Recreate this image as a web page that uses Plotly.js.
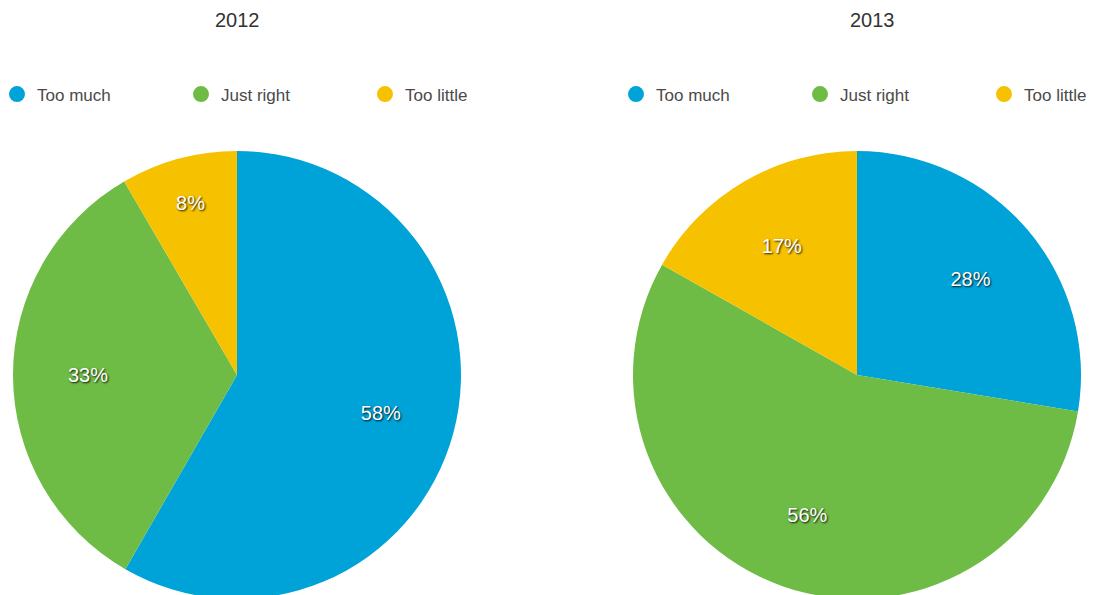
<!DOCTYPE html>
<html>
<head>
<meta charset="utf-8">
<script src="https://cdn.plot.ly/plotly-3.0.1.min.js"></script>
<style>
html,body{margin:0;padding:0;overflow:hidden;background:#fff;}
#chart{width:1096px;height:600px;}
</style>
</head>
<body>
<div id="chart"></div>
<script>
const categories = ["Too much", "Just right", "Too little"];
const years = ["2012", "2013"];
// shares (labels show them rounded)
const values2012 = [58.3, 33.3, 8.4];
const values2013 = [27.6, 55.6, 16.8];
const colors = ["#00A3D8", "#6EBC45", "#F6C200"];

const FONT = "Liberation Sans, Arial, Helvetica, sans-serif";
const labelFont = {family: FONT, size: 20, color: "#ffffff", shadow: "1px 1px 2px rgba(0,0,0,0.9)"};

function pieTrace(vals, xdom) {
  return {
    type: "pie",
    labels: categories,
    values: vals,
    sort: false,
    direction: "clockwise",
    rotation: 0,
    marker: {colors: colors, line: {width: 0}},
    textinfo: "none",
    hoverinfo: "none",
    showlegend: false,
    domain: {x: xdom, y: [0, 1]}
  };
}
// transparent ring overlay that carries the percentage labels
function labelTrace(vals, xdom) {
  return {
    type: "pie",
    labels: categories,
    values: vals,
    sort: false,
    direction: "clockwise",
    rotation: 0,
    hole: 0.33,
    marker: {colors: ["rgba(0,0,0,0)", "rgba(0,0,0,0)", "rgba(0,0,0,0)"], line: {width: 0}},
    texttemplate: "%{value:.0f}%",
    textposition: "inside",
    insidetextorientation: "horizontal",
    textfont: labelFont,
    hoverinfo: "none",
    showlegend: false,
    domain: {x: xdom, y: [0, 1]}
  };
}

const W = 1096;
const dom1 = [13 / W, 461 / W];
const dom2 = [633 / W, 1081 / W];
const traces = [
  pieTrace(values2012, dom1),
  pieTrace(values2013, dom2),
  labelTrace(values2012, dom1),
  labelTrace(values2013, dom2)
];

// legend-only marker traces (circle symbols), one set per pie legend
["legend", "legend2"].forEach(function (lg) {
  categories.forEach(function (c, i) {
    traces.push({
      type: "scatter", mode: "markers", x: [null], y: [null],
      name: c, legend: lg,
      marker: {symbol: "circle", size: 16, color: colors[i]},
      hoverinfo: "none", showlegend: true
    });
  });
});

const legendCommon = {
  orientation: "h",
  font: {family: FONT, size: 17, color: "#4a4a4a"},
  yanchor: "middle",
  y: 1.126,
  xanchor: "left",
  entrywidth: 139,
  entrywidthmode: "pixels",
  itemsizing: "trace",
  bgcolor: "rgba(0,0,0,0)",
  itemclick: false, itemdoubleclick: false
};

const layout = {
  width: 1096,
  height: 600,
  margin: {l: 0, r: 0, t: 151, b: 1, autoexpand: false},
  paper_bgcolor: "#ffffff",
  plot_bgcolor: "#ffffff",
  showlegend: true,
  xaxis: {visible: false},
  yaxis: {visible: false},
  legend: Object.assign({}, legendCommon, {x: -3 / W}),
  legend2: Object.assign({}, legendCommon, {x: 616 / W}),
  annotations: [
    {text: years[0], xref: "paper", yref: "paper", x: 237 / W, y: 1.292, showarrow: false,
     xanchor: "center", yanchor: "middle", font: {family: FONT, size: 20, color: "#333333"}},
    {text: years[1], xref: "paper", yref: "paper", x: 872 / W, y: 1.292, showarrow: false,
     xanchor: "center", yanchor: "middle", font: {family: FONT, size: 20, color: "#333333"}}
  ]
};

Plotly.newPlot("chart", traces, layout, {displayModeBar: false, staticPlot: true});
</script>
</body>
</html>
